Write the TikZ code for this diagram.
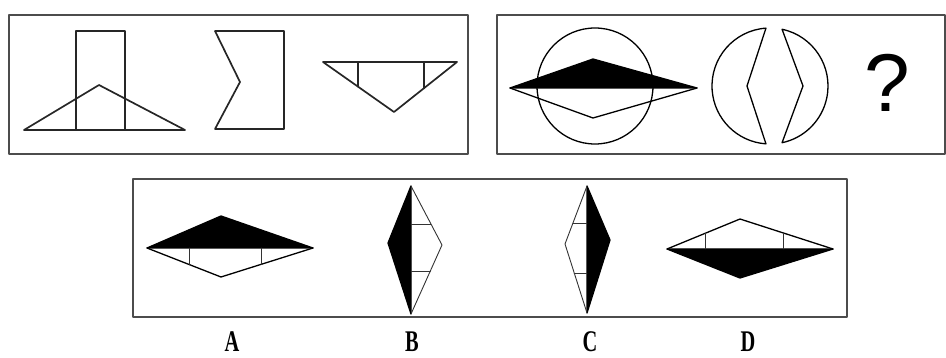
\documentclass[tikz,border=0pt]{standalone}
\usepackage{fontspec}
\usetikzlibrary{calc}
\setmainfont{Liberation Serif}
\newfontfamily\qfont{Liberation Sans}
\begin{document}
\begin{tikzpicture}[x=1pt,y=-1pt,line join=round,line cap=round,
  frame/.style={draw=black!70,line width=2pt},
  fig/.style={draw=black!85,line width=1.7pt},
  optline/.style={draw=black,line width=1.3pt},
  hair/.style={draw=black!80,line width=0.9pt},
  solidfill/.style={fill=black,draw=black,line width=1.3pt},
  lab/.style={font=\bfseries\fontsize{30}{30}\selectfont,inner sep=0pt}]
\useasboundingbox (0,0) rectangle (946,358);
% frames
\draw[frame] (9,15) rectangle (468,154);
\draw[frame] (497,15) rectangle (945,154);
\draw[frame] (133,179) rectangle (847,317);
% box 1, figure 1
\draw[fig] (76,130) -- (76,31) -- (125,31) -- (125,130);
\draw[fig] (24,130) -- (99,85) -- (185,130) -- cycle;
% box 1, figure 2
\draw[fig] (215,31) -- (284,31) -- (284,129) -- (215,129) -- (240,82) -- cycle;
% box 1, figure 3
\draw[fig] (323,62) -- (457,62) -- (394,112) -- cycle;
\draw[fig] (358,62) -- (358,86.6);
\draw[fig] (424,62) -- (424,88.2);
% box 2, figure 1
\draw[optline] (595,86) circle[radius=58];
\draw[solidfill] (510,88) -- (593,59) -- (697,88) -- cycle;
\draw[optline] (510,88) -- (593,118) -- (697,88);
% box 2, figure 2
\coordinate (c2) at (770,86);
\draw[optline] ($(c2)+(266:58)$) arc[start angle=266,end angle=94,radius=58] -- (747,86) -- cycle;
\draw[optline] ($(c2)+(-78:58)$) arc[start angle=-78,end angle=78,radius=58] -- (803,86) -- cycle;
% question mark
\node[font=\qfont\fontsize{82}{82}\selectfont,inner sep=0pt] (q) at (887,82.5) {?};
% option A
\draw[solidfill] (147,248) -- (221,216) -- (313,248) -- cycle;
\draw[optline] (147,248) -- (221,277) -- (313,248);
\draw[hair] (189,248) -- (189,264.5);
\draw[hair] (261,248) -- (261,264.4);
% option B
\draw[solidfill] (411,186) -- (388,243) -- (411,314) -- cycle;
\draw[hair] (411,186) -- (442,245) -- (411,314);
\draw[hair] (411,224) -- (431,224);
\draw[hair] (411,271) -- (430.3,271);
% option C
\draw[solidfill] (587,186) -- (610,240) -- (587,313) -- cycle;
\draw[hair] (587,186) -- (565,244) -- (587,313);
\draw[hair] (573,223) -- (587,223);
\draw[hair] (574.2,273) -- (587,273);
% option D
\draw[solidfill] (667,249) -- (740,278) -- (833,249) -- cycle;
\draw[optline] (667,249) -- (740,219) -- (833,249);
\draw[hair] (705,249) -- (705,233.4);
\draw[hair] (783,249) -- (783,232.9);
% labels
\node[lab] (la) at (232,342) {\scalebox{0.68}[1]{A}};
\node[lab] (lb) at (412,342) {\scalebox{0.68}[1]{B}};
\node[lab] (lc) at (590,342) {\scalebox{0.68}[1]{C}};
\node[lab] (ld) at (748,342) {\scalebox{0.68}[1]{D}};
\end{tikzpicture}
\end{document}
